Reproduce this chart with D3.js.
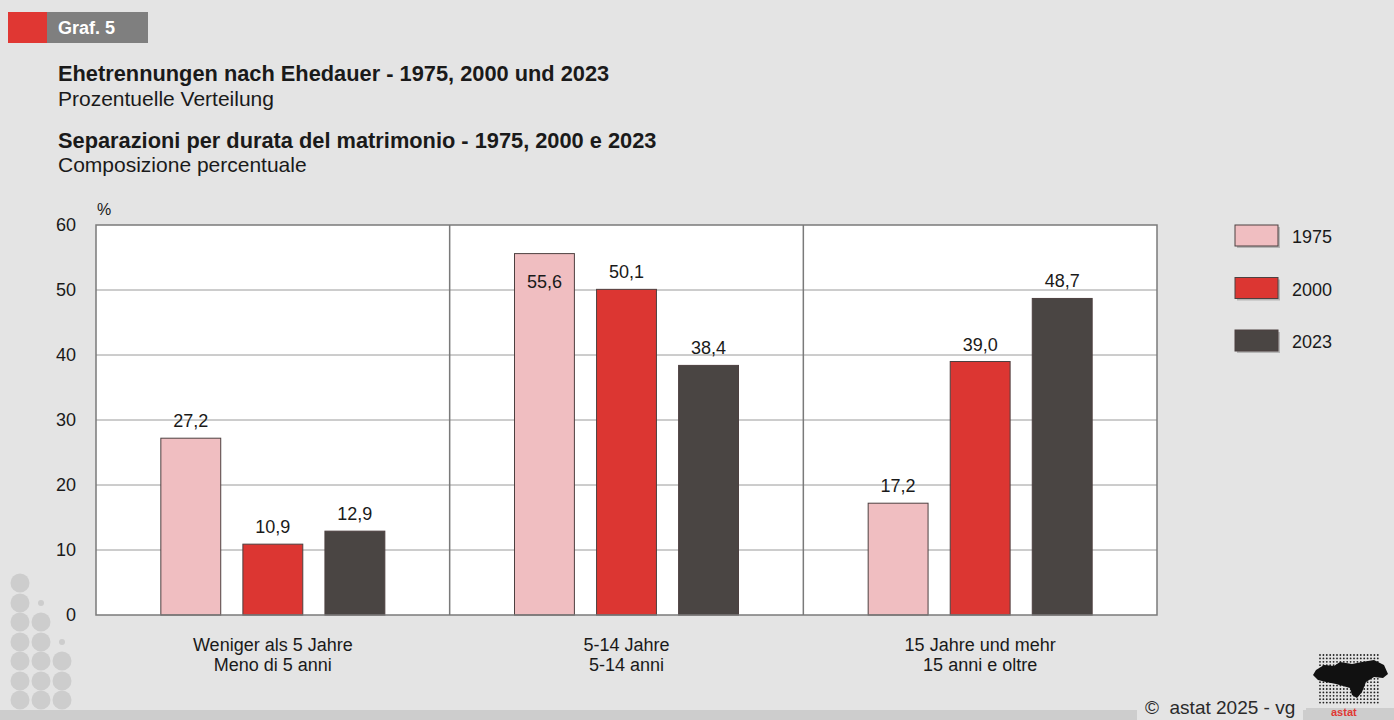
<!DOCTYPE html>
<html>
<head>
<meta charset="utf-8">
<script src="https://cdn.jsdelivr.net/npm/d3@7/dist/d3.min.js"></script>
<style>
  html, body { margin: 0; padding: 0; background: #e4e4e4; }
  svg { display: block; font-family: "Liberation Sans", Arial, sans-serif; }
</style>
</head>
<body>
<div id="chart"></div>
<script>
// data
var categoriesDe = ["Weniger als 5 Jahre", "5-14 Jahre", "15 Jahre und mehr"];
var categoriesIt = ["Meno di 5 anni", "5-14 anni", "15 anni e oltre"];
var series = ["1975", "2000", "2023"];
var values1975 = [27.2, 55.6, 17.2];
var values2000 = [10.9, 50.1, 39.0];
var values2023 = [12.9, 38.4, 48.7];
var yTicks = [0, 10, 20, 30, 40, 50, 60];

var colors = { "1975": "#f0bec1", "2000": "#dc3632", "2023": "#4a4543" };

var width = 1394, height = 720;
var margin = { top: 225, right: 237, bottom: 105, left: 96 };

var svg = d3.select("#chart").append("svg")
    .attr("width", width)
    .attr("height", height);

svg.append("rect").attr("width", width).attr("height", height).attr("fill", "#e4e4e4");

// header tag
svg.append("rect").attr("x", 8).attr("y", 12).attr("width", 39).attr("height", 31).attr("fill", "#e03733");
svg.append("rect").attr("x", 47).attr("y", 12).attr("width", 101).attr("height", 31).attr("fill", "#7f7f7f");
svg.append("text").attr("x", 58).attr("y", 34).attr("fill", "#fff")
    .attr("font-size", 18).attr("font-weight", "bold").text("Graf. 5");

// titles
var titles = [
    { t: "Ehetrennungen nach Ehedauer - 1975, 2000 und 2023", y: 81, b: true },
    { t: "Prozentuelle Verteilung", y: 106, b: false },
    { t: "Separazioni per durata del matrimonio - 1975, 2000 e 2023", y: 148, b: true },
    { t: "Composizione percentuale", y: 172, b: false }
];
svg.selectAll("text.title").data(titles).enter().append("text")
    .attr("class", "title")
    .attr("x", 58).attr("y", function (d) { return d.y; })
    .attr("font-size", function (d) { return d.b ? 21.8 : 21; })
    .attr("font-weight", function (d) { return d.b ? "bold" : "normal"; })
    .attr("fill", "#1a1a1a")
    .text(function (d) { return d.t; });

// decorative circles, bottom left
var dots = [];
[583, 603, 622, 642, 661, 681, 700].forEach(function (cy, i) {
    dots.push({ x: 20, y: cy, r: 9.5 });
    if (i === 1) dots.push({ x: 41, y: cy, r: 3 });
    if (i >= 2) dots.push({ x: 41, y: cy, r: 9.5 });
    if (i === 3) dots.push({ x: 62, y: cy, r: 3 });
    if (i >= 4) dots.push({ x: 62, y: cy, r: 9.5 });
});
svg.selectAll("circle.deco").data(dots).enter().append("circle")
    .attr("class", "deco")
    .attr("cx", function (d) { return d.x; })
    .attr("cy", function (d) { return d.y; })
    .attr("r", function (d) { return d.r; })
    .attr("fill", "#cdcdcd");

// bottom strip
svg.append("rect").attr("x", 0).attr("y", 710).attr("width", width).attr("height", 10).attr("fill", "#cdcdcd");
svg.append("rect").attr("x", 1137).attr("y", 700).attr("width", 166).attr("height", 20).attr("fill", "#e4e4e4");
svg.append("text").attr("x", 1145).attr("y", 714).attr("font-size", 19).attr("fill", "#2a2a2a")
    .attr("xml:space", "preserve")
    .text("\u00A9  astat 2025 - vg");

// chart
var innerW = width - margin.left - margin.right;
var innerH = height - margin.top - margin.bottom;
var g = svg.append("g").attr("transform", "translate(" + margin.left + "," + margin.top + ")");

var x0 = d3.scaleBand().domain(categoriesDe).range([0, innerW]);
var x1 = d3.scaleBand().domain(series).range([0, 224]).paddingInner(0.27);
var y = d3.scaleLinear().domain([0, 60]).range([innerH, 0]);

g.append("rect").attr("width", innerW).attr("height", innerH).attr("fill", "#fff");

g.append("g").selectAll("line").data(yTicks.slice(1, -1)).enter().append("line")
    .attr("x1", 0).attr("x2", innerW)
    .attr("y1", function (d) { return y(d); }).attr("y2", function (d) { return y(d); })
    .attr("stroke", "#9a9a9a").attr("stroke-width", 1);

g.append("g").selectAll("line").data(categoriesDe.slice(1)).enter().append("line")
    .attr("x1", function (d) { return x0(d); }).attr("x2", function (d) { return x0(d); })
    .attr("y1", 0).attr("y2", innerH)
    .attr("stroke", "#7a7a7a").attr("stroke-width", 1.5);

var rows = categoriesDe.map(function (c, i) {
    return { cat: c, vals: [values1975[i], values2000[i], values2023[i]] };
});

var groups = g.selectAll("g.grp").data(rows).enter().append("g")
    .attr("class", "grp")
    .attr("transform", function (d) { return "translate(" + (x0(d.cat) + (x0.bandwidth() - 224) / 2) + ",0)"; });

var barData = function (d) {
    return series.map(function (s, i) { return { s: s, v: d.vals[i] }; });
};

groups.selectAll("rect").data(barData).enter().append("rect")
    .attr("x", function (d) { return x1(d.s); })
    .attr("y", function (d) { return y(d.v); })
    .attr("width", x1.bandwidth())
    .attr("height", function (d) { return innerH - y(d.v); })
    .attr("fill", function (d) { return colors[d.s]; })
    .attr("stroke", "#4d4040").attr("stroke-width", 1);

var fmt = function (v) { return d3.format(".1f")(v).replace(".", ","); };

groups.selectAll("text").data(barData).enter().append("text")
    .attr("x", function (d) { return x1(d.s) + x1.bandwidth() / 2; })
    .attr("y", function (d) { return d.v > 52 ? y(d.v) + 34 : y(d.v) - 11; })
    .attr("text-anchor", "middle")
    .attr("font-size", 18).attr("fill", "#1a1a1a")
    .text(function (d) { return fmt(d.v); });

// frame
g.append("rect").attr("width", innerW).attr("height", innerH)
    .attr("fill", "none").attr("stroke", "#7a7a7a").attr("stroke-width", 1.5);

// y axis
var yAxis = d3.axisLeft(y).tickValues(yTicks).tickSize(0).tickPadding(20);
var ya = g.append("g").call(yAxis);
ya.select(".domain").remove();
ya.selectAll("text").attr("font-size", 18).attr("fill", "#1a1a1a")
    .attr("font-family", "'Liberation Sans', Arial, sans-serif");
g.append("text").attr("x", 1).attr("y", -10).attr("font-size", 16).attr("fill", "#1a1a1a").text("%");

// x labels
var xl = g.selectAll("text.cat").data(categoriesDe).enter().append("text")
    .attr("class", "cat")
    .attr("x", function (d) { return x0(d) + x0.bandwidth() / 2; })
    .attr("y", innerH + 36)
    .attr("text-anchor", "middle").attr("font-size", 18).attr("fill", "#1a1a1a");
xl.append("tspan").text(function (d) { return d; });
xl.append("tspan")
    .attr("x", function (d) { return x0(d) + x0.bandwidth() / 2; })
    .attr("dy", 20)
    .text(function (d, i) { return categoriesIt[i]; });

// legend
var legend = svg.append("g").attr("transform", "translate(1235,225)");
var li = legend.selectAll("g").data(series).enter().append("g")
    .attr("transform", function (d, i) { return "translate(0," + (i * 52.5) + ")"; });
li.append("rect").attr("x", 2).attr("y", 2).attr("width", 43).attr("height", 21).attr("fill", "#b5b5b5");
li.append("rect").attr("width", 43).attr("height", 21)
    .attr("fill", function (d) { return colors[d]; })
    .attr("stroke", "#4d4040").attr("stroke-width", 1);
li.append("text").attr("x", 57).attr("y", 18).attr("font-size", 18).attr("fill", "#1a1a1a")
    .text(function (d) { return d; });

// astat logo (approximation)
var logo = svg.append("g");
logo.append("rect").attr("x", 1306).attr("y", 708).attr("width", 88).attr("height", 12).attr("fill", "#cdcdcd");
var grid = [];
d3.range(1320, 1381, 3.4).forEach(function (gx) {
    d3.range(655, 704, 3.4).forEach(function (gy) { grid.push([gx, gy]); });
});
logo.selectAll("circle").data(grid).enter().append("circle")
    .attr("cx", function (d) { return d[0]; }).attr("cy", function (d) { return d[1]; })
    .attr("r", 0.9).attr("fill", "#222");
logo.append("path")
    .attr("d", "M1316,670 L1324,665 L1334,666 L1340,662 L1352,664 L1362,662 L1374,660 L1384,665 L1388,674 L1383,678 L1374,677 L1366,682 L1362,692 L1357,698 L1352,695 L1350,688 L1343,686 L1336,684 L1326,682 L1318,680 L1313,675 Z")
    .attr("fill", "#111");
logo.append("text").attr("x", 1331).attr("y", 716).attr("font-size", 11)
    .attr("font-weight", "bold").attr("fill", "#e03733").text("astat");
</script>
</body>
</html>
